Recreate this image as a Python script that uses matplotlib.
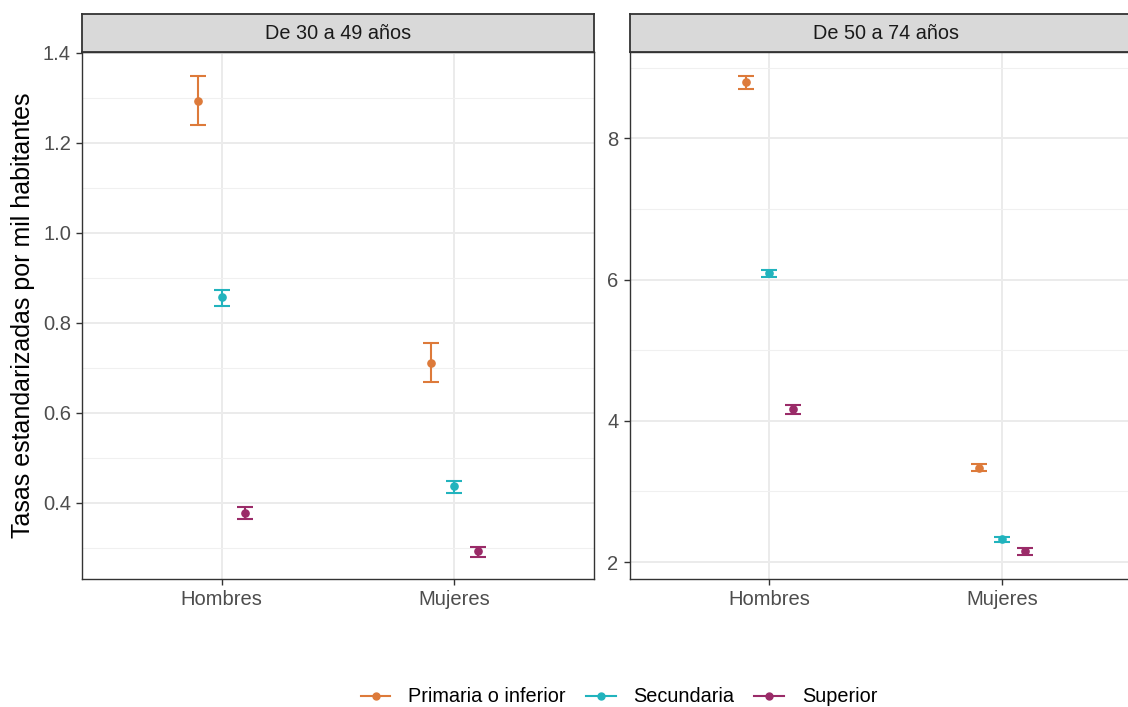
import matplotlib
matplotlib.use("Agg")
import matplotlib.pyplot as plt
from matplotlib.lines import Line2D
import numpy as np

plt.rcParams["font.family"] = ["Liberation Sans", "DejaVu Sans"]

sexes = ["Hombres", "Mujeres"]
levels = ["Primaria o inferior", "Secundaria", "Superior"]
colors = ["#DD7A3A", "#21B3BD", "#9A2B68"]
panels = ["De 30 a 49 años", "De 50 a 74 años"]

# tasa, límite inferior, límite superior  (Hombres, Mujeres)
rate_30_49 = {
    "Primaria o inferior": [1.292, 0.711],
    "Secundaria": [0.856, 0.436],
    "Superior": [0.378, 0.292],
}
low_30_49 = {
    "Primaria o inferior": [1.238, 0.669],
    "Secundaria": [0.838, 0.422],
    "Superior": [0.364, 0.280],
}
high_30_49 = {
    "Primaria o inferior": [1.347, 0.754],
    "Secundaria": [0.872, 0.449],
    "Superior": [0.391, 0.302],
}
rate_50_74 = {
    "Primaria o inferior": [8.80, 3.337],
    "Secundaria": [6.09, 2.320],
    "Superior": [4.164, 2.151],
}
low_50_74 = {
    "Primaria o inferior": [8.706, 3.285],
    "Secundaria": [6.04, 2.287],
    "Superior": [4.10, 2.099],
}
high_50_74 = {
    "Primaria o inferior": [8.885, 3.384],
    "Secundaria": [6.137, 2.353],
    "Superior": [4.22, 2.198],
}

W, H = 1128, 707
fig = plt.figure(figsize=(W / 100, H / 100), dpi=100)


def box(x0, x1, y_top, y_bot):
    return [x0 / W, 1 - y_bot / H, (x1 - x0) / W, (y_bot - y_top) / H]


panel_top, panel_bot = 52.3, 579
strip_top = 14
# the right panel runs past the image edge, as in the original
axes_px = [(82, 594), (629.6, 1141.6)]
data = [(rate_30_49, low_30_49, high_30_49), (rate_50_74, low_50_74, high_50_74)]
ylims = [(0.2305, 1.4005), (1.76, 9.22)]
majors = [np.arange(0.4, 1.41, 0.2), np.arange(2, 9, 2)]
minors = [np.arange(0.3, 1.4, 0.2), np.arange(3, 10, 2)]

offsets = [-0.1, 0.0, 0.1]
x = np.arange(1, len(sexes) + 1)

for i, (x0, x1) in enumerate(axes_px):
    ax = fig.add_axes(box(x0, x1, panel_top, panel_bot))
    rate, low, high = data[i]
    for lev, col, off in zip(levels, colors, offsets):
        y = np.array(rate[lev])
        err = [y - np.array(low[lev]), np.array(high[lev]) - y]
        ax.errorbar(x + off, y, yerr=err, fmt="o", color=col, ms=5.2,
                    elinewidth=1.5, capsize=5.6, capthick=1.5, zorder=3)
    ax.set_xlim(0.4, 2.6)
    ax.set_ylim(*ylims[i])
    ax.set_xticks(x)
    ax.set_xticklabels(sexes)
    ax.set_yticks(majors[i])
    if i == 0:
        ax.set_yticklabels([f"{v:.1f}" for v in majors[i]])
    ax.set_yticks(minors[i], minor=True)
    ax.grid(True, which="major", color="#EBEBEB", linewidth=1.4, zorder=0)
    ax.grid(True, which="minor", axis="y", color="#F0F0F0", linewidth=0.8, zorder=0)
    ax.set_axisbelow(True)
    ax.tick_params(axis="both", which="major", length=4, width=1.0,
                   color="#333333", labelcolor="#4D4D4D", labelsize=14.5, pad=4)
    ax.tick_params(axis="y", which="minor", length=0)
    for s in ax.spines.values():
        s.set_color("#333333")
        s.set_linewidth(1.0)
    if i == 0:
        ax.set_ylabel("Tasas estandarizadas por mil habitantes", fontsize=18,
                      color="black", labelpad=6)

    sax = fig.add_axes(box(x0, x1, strip_top, panel_top))
    sax.set_xticks([])
    sax.set_yticks([])
    sax.set_facecolor("#D9D9D9")
    for s in sax.spines.values():
        s.set_color("#333333")
        s.set_linewidth(1.3)
    sax.text(0.5, 0.5, panels[i], transform=sax.transAxes, ha="center",
             va="center", fontsize=14.3, color="#1A1A1A")

handles = [Line2D([0], [0], color=c, marker="o", ms=5, lw=1.5) for c in colors]
fig.legend(handles, levels, loc="center", ncol=3,
           bbox_to_anchor=(619 / W, 1 - 697 / H), frameon=False,
           fontsize=14.3, handlelength=1.5, columnspacing=1.0,
           handletextpad=0.9)

fig.savefig("out.png", dpi=100)
